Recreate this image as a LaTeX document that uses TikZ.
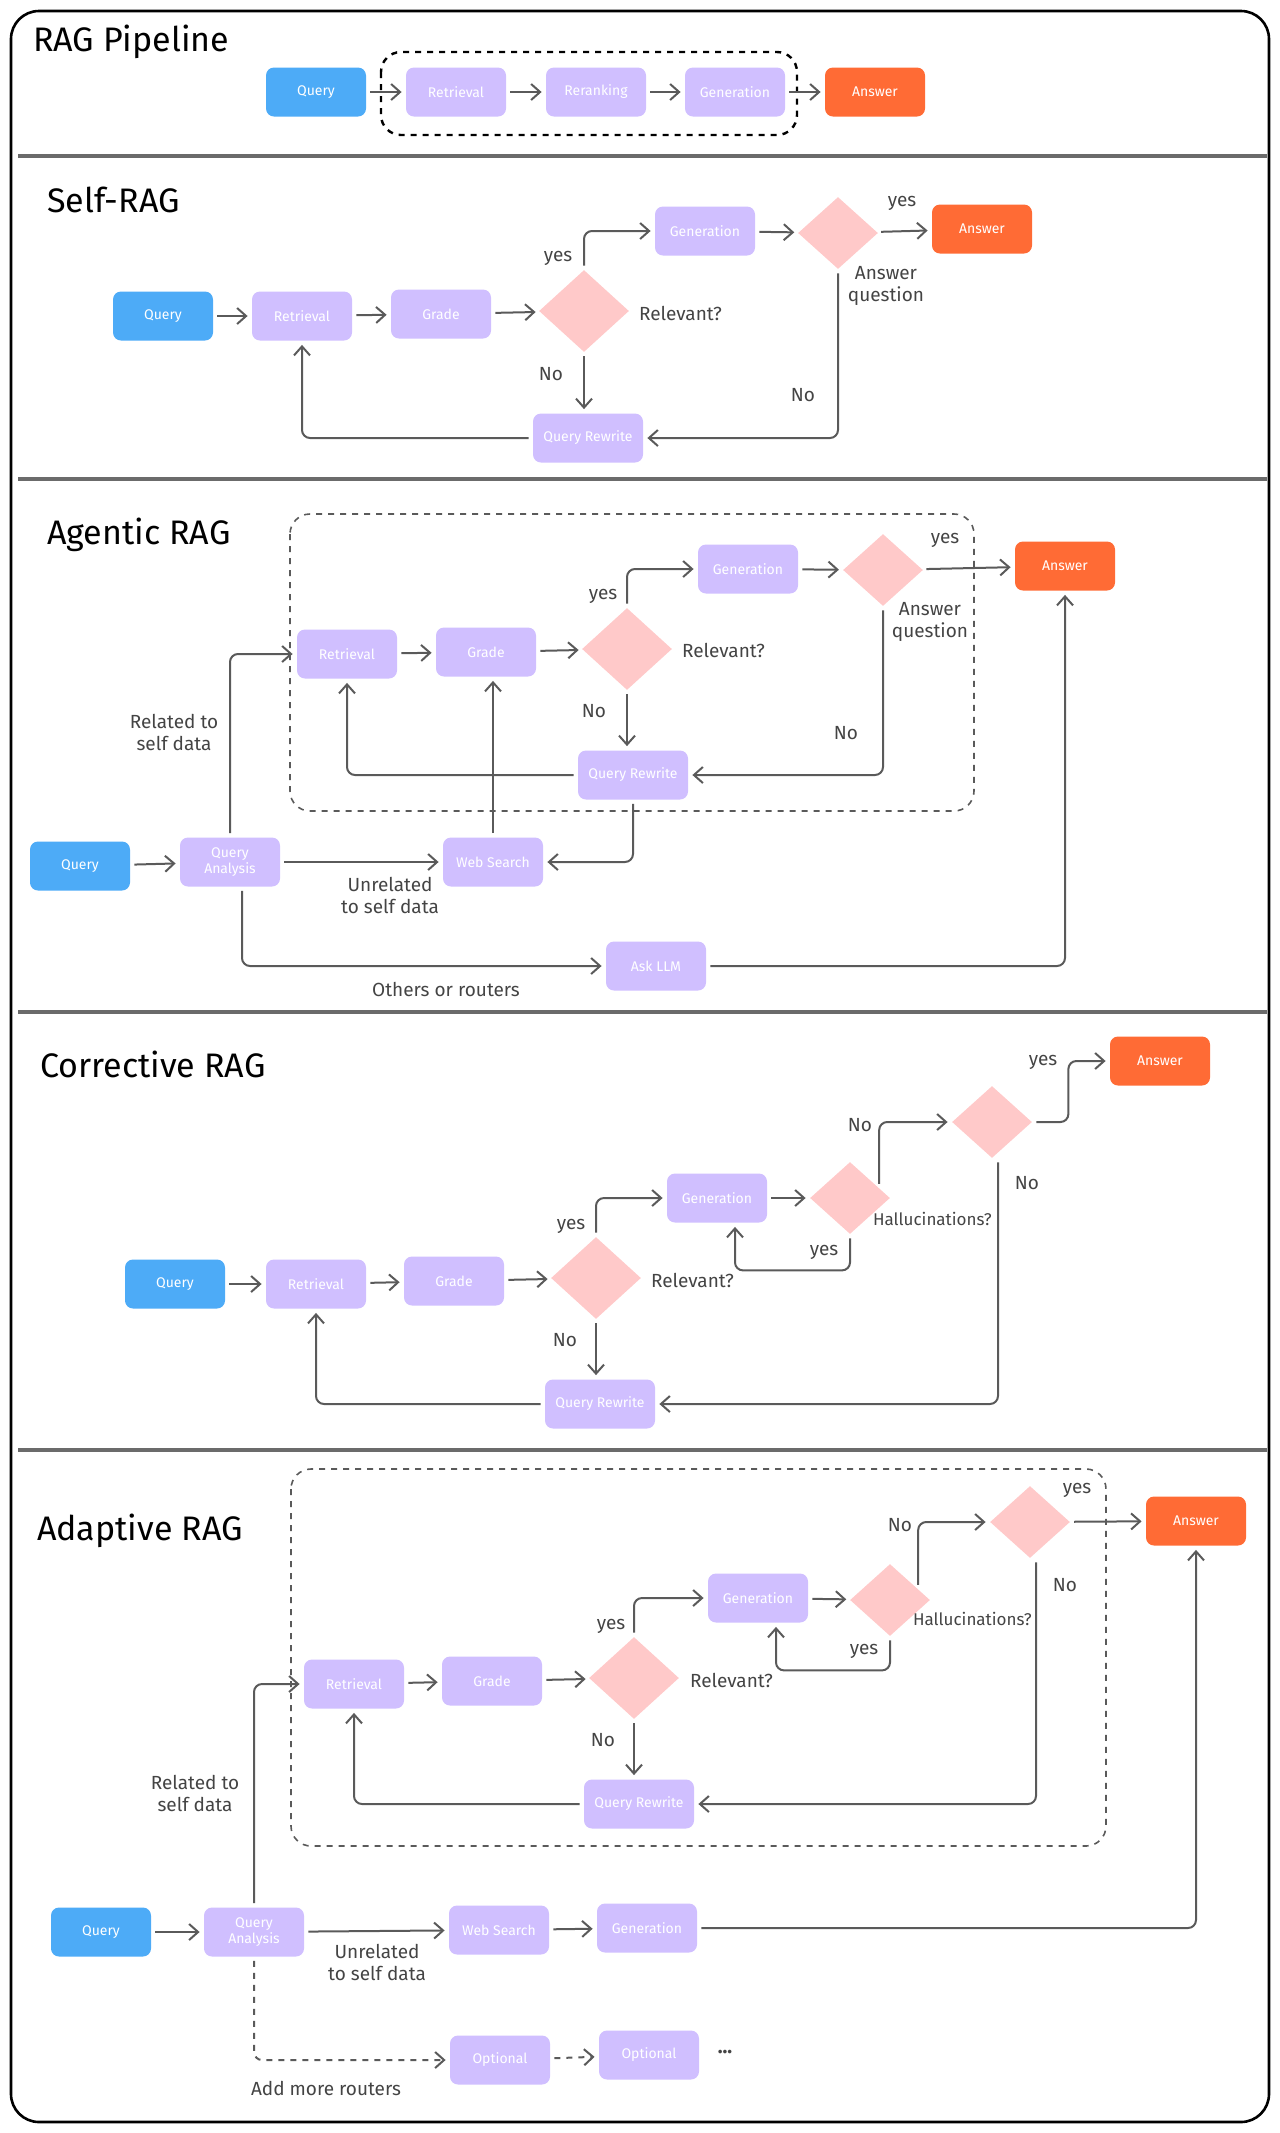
\documentclass[tikz,border=0pt]{standalone}
\usepackage{fontspec}
\setmainfont{Fira Sans}
\usetikzlibrary{shapes.geometric,arrows.meta}

\definecolor{qblue}{HTML}{4DABF7}
\definecolor{steppurple}{HTML}{D0BFFF}
\definecolor{ansorange}{HTML}{FF6B35}
\definecolor{decpink}{HTML}{FFC9C9}
\definecolor{linegray}{HTML}{5A5A5A}
\definecolor{notegray}{HTML}{444444}

\tikzstyle{box} = [rectangle,rounded corners=4pt,minimum width=50pt,minimum height=24.5pt,inner sep=1pt,text=white,font=\fontsize{7}{8}\selectfont,align=center]
\tikzstyle{query} = [box,fill=qblue]
\tikzstyle{stage} = [box,fill=steppurple]
\tikzstyle{widestage} = [stage,minimum width=55pt]
\tikzstyle{answer} = [box,fill=ansorange]
\tikzstyle{decision} = [diamond,fill=decpink,inner sep=0pt,minimum width=45pt,minimum height=41pt]
\tikzstyle{check} = [diamond,fill=decpink,inner sep=0pt,minimum width=40pt,minimum height=36pt]
\tikzstyle{notetext} = [text=notegray,font=\fontsize{9.5}{11}\selectfont,align=center]
\tikzstyle{titletext} = [anchor=west,font=\fontsize{17}{20}\selectfont]
\tikzstyle{arrowdecorate} = [->,>={Straight Barb[length=4.5pt,width=8pt]},draw=linegray,line width=1pt,rounded corners=4pt,shorten >=2pt,shorten <=2pt]
\tikzstyle{groupbox} = [draw=linegray,dashed,rounded corners=10pt,line width=0.8pt]
\tikzstyle{sepline} = [draw=linegray!90,line width=1.6pt]

\begin{document}
\begin{tikzpicture}[x=0.5pt,y=-0.5pt]
  \useasboundingbox (0,0) rectangle (1280,2133);
  % frame, section lines, groups
  \draw[line width=1.3pt,rounded corners=14pt] (11,11) rectangle (1269,2122);
  \foreach \y in {156,479,1012,1450}
    \draw[sepline] (18,\y) -- (1267,\y);
  \draw[groupbox,draw=black,line width=1.2pt] (381,52) rectangle (797,135);
  \draw[groupbox] (290,514) rectangle (974,811);
  \draw[groupbox] (291,1469) rectangle (1106,1846);

  % titles
  \foreach \nodename/\x/\y/\lbl in {t1/26/42/RAG Pipeline, t2/40/200/Self-RAG,
    t3/40/535/Agentic RAG, t4/33/1064/Corrective RAG, t5/30/1531/Adaptive RAG}
    \node[titletext] (\nodename) at (\x,\y) {\lbl};

  % nodes
  \foreach \nodename/\x/\y/\kind/\lbl in {
    q1/316/92/query/Query, ret1/456/92/stage/Retrieval, rer1/596/92/stage/Reranking,
    gen1/735/92/stage/Generation, ans1/875/92/answer/Answer,
    q2/163/316/query/Query, ret2/302/316/stage/Retrieval, gra2/441/314/stage/Grade,
    rel2/584/311/decision/, gen2/705/231/stage/Generation, aq2/838/233/check/,
    ans2/982/229/answer/Answer, qr2/588/438/widestage/Query Rewrite,
    ret3/347/654/stage/Retrieval, gra3/486/652/stage/Grade, rel3/627/649/decision/,
    gen3/748/569/stage/Generation, aq3/883/570/check/, ans3/1065/566/answer/Answer,
    qr3/633/775/widestage/Query Rewrite, q3/80/866/query/Query,
    qa3/230/862/stage/Query\\Analysis, web3/493/862/stage/Web Search, llm3/656/966/stage/Ask LLM,
    q4/175/1284/query/Query, ret4/316/1284/stage/Retrieval, gra4/454/1281/stage/Grade,
    rel4/596/1278/decision/, gen4/717/1198/stage/Generation, hal4/850/1198/check/,
    aq4/992/1122/check/, ans4/1160/1061/answer/Answer, qr4/600/1404/widestage/Query Rewrite,
    ret5/354/1684/stage/Retrieval, gra5/492/1681/stage/Grade, rel5/634/1678/decision/,
    gen5/758/1598/stage/Generation, hal5/890/1600/check/, aq5/1030/1522/check/,
    ans5/1196/1521/answer/Answer, qr5/639/1804/widestage/Query Rewrite,
    q5/101/1932/query/Query, qa5/254/1932/stage/Query\\Analysis, web5/499/1930/stage/Web Search,
    gen6/647/1928/stage/Generation, opt5a/500/2060/stage/Optional, opt5b/649/2055/stage/Optional}
    \node[\kind] (\nodename) at (\x,\y) {\lbl};

  % notes
  \foreach \nodename/\x/\y/\lbl in {
    n2a/558/258/yes, n2b/551/374/No, n2c/902/203/yes, n2d/886/286/Answer\\question, n2e/803/395/No,
    n3a/603/596/yes, n3b/594/711/No, n3c/846/733/No, n3d/945/540/yes, n3e/930/622/Answer\\question,
    n3f/174/732/Related to\\self data, n3g/390/895/Unrelated\\to self data, n3h/446/989/Others or routers,
    n4a/571/1226/yes, n4b/565/1340/No, n4c/824/1252/yes, n4d/860/1125/No, n4e/1043/1062/yes,
    n4f/1027/1183/No, n5a/1077/1490/yes, n5b/900/1525/No, n5c/1065/1585/No, n5d/611/1626/yes,
    n5e/864/1651/yes, n5f/603/1740/No, n5g/195/1793/Related to\\self data,
    n5h/377/1962/Unrelated\\to self data, n5i/326/2088/Add more routers}
    \node[notetext] (\nodename) at (\x,\y) {\lbl};
  \node[notetext,font=\bfseries] (n5j) at (725,2052) {...};
  \foreach \nodename/\x/\y/\lbl in {r2/632/313/Relevant?, r3/675/650/Relevant?, r4/644/1280/Relevant?,
    r5/683/1680/Relevant?}
    \node[notetext,anchor=west] (\nodename) at (\x,\y) {\lbl};
  \foreach \nodename/\x/\y/\lbl in {h4/866/1219/Hallucinations?, h5/906/1619/Hallucinations?}
    \node[notetext,anchor=west,font=\fontsize{8.5}{10}\selectfont] (\nodename) at (\x,\y) {\lbl};

  %edges
  \foreach \startnode/\endnode in {q1/ret1, ret1/rer1, rer1/gen1, gen1/ans1,
    q2/ret2, ret2/gra2, gra2/rel2, gen2/aq2, aq2/ans2,
    ret3/gra3, gra3/rel3, gen3/aq3, aq3/ans3, q3/qa3, qa3/web3,
    q4/ret4, ret4/gra4, gra4/rel4, gen4/hal4,
    ret5/gra5, gra5/rel5, gen5/hal5, aq5/ans5, q5/qa5, qa5/web5, web5/gen6}
    \draw[arrowdecorate] (\startnode) -- (\endnode);
  \foreach \startnode/\endnode in {rel2/gen2, rel3/gen3, rel4/gen4, rel5/gen5, qa3/ret3, qa5/ret5}
    \draw[arrowdecorate] (\startnode.north) |- (\endnode.west);
  \foreach \startnode/\endnode in {aq2/qr2, aq3/qr3, qr3/web3}
    \draw[arrowdecorate] (\startnode.south) |- (\endnode.east);
  \foreach \startnode/\endnode in {aq4/qr4, aq5/qr5}
    \draw[arrowdecorate] ([xshift=3pt]\startnode.south) |- (\endnode.east);
  \foreach \startnode/\endnode in {rel2/qr2, rel3/qr3, rel4/qr4, rel5/qr5}
    \draw[arrowdecorate] (\startnode.south) -- (\startnode.south |- \endnode.north);
  \foreach \startnode/\endnode in {qr2/ret2, qr3/ret3, qr4/ret4, qr5/ret5}
    \draw[arrowdecorate] (\startnode.west) -| (\endnode.south);
  \draw[arrowdecorate] (web3.north) -- (web3.north |- gra3.south);
  \draw[arrowdecorate] ([xshift=6pt]qa3.south) |- (llm3.west);
  \draw[arrowdecorate] (llm3.east) -| (ans3.south);
  \draw[arrowdecorate] (hal4.south) -- ++(0,36) -| ([xshift=9pt]gen4.south);
  \draw[arrowdecorate] ([xshift=4.5pt,yshift=-4pt]hal4.north east) |- (aq4.west);
  \draw[arrowdecorate] (aq4.east) -- ++(36,0) |- (ans4.west);
  \draw[arrowdecorate] (hal5.south) -- ++(0,34) -| ([xshift=9pt]gen5.south);
  \draw[arrowdecorate] ([xshift=4pt,yshift=-3.5pt]hal5.north east) |- (aq5.west);
  \draw[arrowdecorate] (gen6.east) -| (ans5.south);
  \draw[arrowdecorate,dashed] (qa5.south) |- (opt5a.west);
  \draw[arrowdecorate,dashed] (opt5a) -- (opt5b);
\end{tikzpicture}
\end{document}
